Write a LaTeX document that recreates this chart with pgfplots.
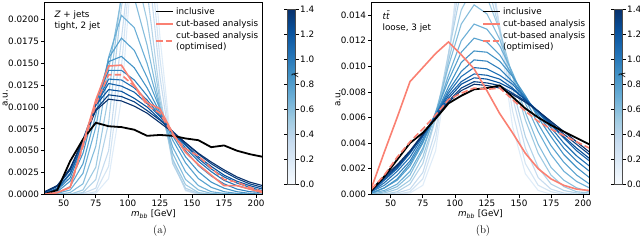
\documentclass[border=0pt]{standalone}
\usepackage{pgfplots}
\pgfplotsset{compat=1.18}
\usepackage{pgfplotstable}
\usepackage{fontspec}
\setsansfont{DejaVu Sans}

\definecolor{bl0}{RGB}{223,236,248}
\definecolor{bl1}{RGB}{211,228,243}
\definecolor{bl2}{RGB}{199,220,239}
\definecolor{bl3}{RGB}{179,211,232}
\definecolor{bl4}{RGB}{159,202,226}
\definecolor{bl5}{RGB}{134,189,220}
\definecolor{bl6}{RGB}{108,175,214}
\definecolor{bl7}{RGB}{87,161,206}
\definecolor{bl8}{RGB}{67,147,198}
\definecolor{bl9}{RGB}{50,130,190}
\definecolor{bl10}{RGB}{33,113,181}
\definecolor{bl11}{RGB}{21,97,169}
\definecolor{bl12}{RGB}{8,81,156}
\definecolor{bl13}{RGB}{8,65,132}
\definecolor{bl14}{RGB}{8,48,107}
\definecolor{salmon}{RGB}{250,128,114}

\pgfplotstableread{
x l0 l1 l2 l3 l4 l5 l6 l7 l8 l9 l10 l11 l12 l13 l14 incl cut opt
35 0 0 0 0 0 0 0 0 0 0.0001 0.0001 0.0001 0.0002 0.0002 0.0003 0.0000 0.0000 0.0000
45 0 0 0 0 0 0 0.0001 0.0001 0.0003 0.0005 0.0006 0.0007 0.0009 0.0010 0.0010 0.0005 0.0002 0.0002
55 0 0 0 0 0 0.0002 0.0005 0.0009 0.0015 0.0019 0.0023 0.0024 0.0028 0.0028 0.0030 0.0038 0.0008 0.0008
65 0 0 0.0001 0.0002 0.0005 0.0012 0.0024 0.0035 0.0047 0.0055 0.0058 0.0059 0.0063 0.0062 0.0062 0.0063 0.0058 0.0055
75 0.0001 0.0003 0.0007 0.0017 0.0031 0.0055 0.0077 0.0091 0.0103 0.0105 0.0103 0.0103 0.0102 0.0097 0.0096 0.0082 0.0108 0.0103
85 0.0018 0.0032 0.0050 0.0082 0.0113 0.0143 0.0157 0.0156 0.0152 0.0142 0.0132 0.0127 0.0120 0.0114 0.0109 0.0078 0.0147 0.0137
95 0.0109 0.0146 0.0178 0.0215 0.0230 0.0225 0.0205 0.0179 0.0158 0.0142 0.0131 0.0124 0.0118 0.0112 0.0107 0.0077 0.0148 0.0137
105 0.0296 0.0310 0.0309 0.0296 0.0262 0.0225 0.0191 0.0165 0.0145 0.0131 0.0122 0.0117 0.0110 0.0106 0.0101 0.0074 0.0125 0.0124
115 0.0350 0.0311 0.0276 0.0233 0.0199 0.0171 0.0150 0.0134 0.0122 0.0113 0.0108 0.0104 0.0100 0.0096 0.0093 0.0067 0.0105 0.0102
125 0.0181 0.0156 0.0135 0.0114 0.0107 0.0101 0.0099 0.0098 0.0094 0.0092 0.0090 0.0089 0.0086 0.0085 0.0082 0.0068 0.0098 0.0093
135 0.0041 0.0039 0.0037 0.0035 0.0040 0.0047 0.0054 0.0062 0.0067 0.0069 0.0071 0.0072 0.0071 0.0072 0.0071 0.0067 0.0070 0.0068
145 0.0004 0.0005 0.0005 0.0007 0.0011 0.0017 0.0026 0.0036 0.0043 0.0050 0.0053 0.0056 0.0057 0.0059 0.0059 0.0064 0.0048 0.0052
155 0 0 0 0.0001 0.0002 0.0005 0.0010 0.0018 0.0026 0.0033 0.0038 0.0041 0.0043 0.0046 0.0047 0.0062 0.0034 0.0044
165 0 0 0 0 0 0.0001 0.0003 0.0008 0.0014 0.0021 0.0026 0.0029 0.0032 0.0035 0.0037 0.0054 0.0022 0.0030
175 0 0 0 0 0 0 0.0001 0.0003 0.0007 0.0012 0.0016 0.0020 0.0022 0.0026 0.0028 0.0056 0.0010 0.0017
185 0 0 0 0 0 0 0 0.0001 0.0003 0.0006 0.0010 0.0013 0.0015 0.0018 0.0020 0.0050 0.0010 0.0014
195 0 0 0 0 0 0 0 0 0.0001 0.0003 0.0006 0.0008 0.0010 0.0012 0.0014 0.0046 0.0006 0.0008
205 0 0 0 0 0 0 0 0 0 0.0002 0.0003 0.0004 0.0006 0.0008 0.0010 0.0043 0.0002 0.0003
}\tabA

\pgfplotstableread{
x l0 l1 l2 l3 l4 l5 l6 l7 l8 l9 l10 l11 l12 l13 l14 incl cut opt
35 0 0 0 0 0 0 0.0001 0.0001 0.0001 0.0002 0.0002 0.0002 0.0003 0.0003 0.0004 0.0003 0.0005 0.0004
45 0 0 0 0 0.0001 0.0002 0.0003 0.0005 0.0005 0.0007 0.0009 0.0011 0.0012 0.0013 0.0014 0.0014 0.0033 0.0015
55 0 0 0.0001 0.0002 0.0004 0.0006 0.0008 0.0011 0.0012 0.0015 0.0018 0.0020 0.0021 0.0022 0.0023 0.0027 0.0060 0.0029
65 0.0001 0.0002 0.0004 0.0008 0.0011 0.0015 0.0018 0.0022 0.0024 0.0026 0.0029 0.0032 0.0033 0.0033 0.0034 0.0040 0.0088 0.0041
75 0.0007 0.0012 0.0017 0.0024 0.0029 0.0034 0.0036 0.0040 0.0041 0.0043 0.0045 0.0046 0.0046 0.0046 0.0047 0.0048 0.0099 0.0051
85 0.0034 0.0043 0.0050 0.0059 0.0060 0.0064 0.0062 0.0064 0.0062 0.0062 0.0062 0.0062 0.0061 0.0060 0.0060 0.0059 0.0110 0.0062
95 0.0103 0.0108 0.0109 0.0110 0.0104 0.0100 0.0093 0.0089 0.0084 0.0081 0.0079 0.0077 0.0075 0.0073 0.0072 0.0071 0.0119 0.0074
105 0.0199 0.0187 0.0173 0.0160 0.0144 0.0133 0.0120 0.0111 0.0103 0.0096 0.0092 0.0088 0.0086 0.0083 0.0081 0.0077 0.0109 0.0079
115 0.0249 0.0225 0.0202 0.0181 0.0163 0.0148 0.0133 0.0122 0.0112 0.0105 0.0099 0.0094 0.0091 0.0088 0.0086 0.0082 0.0098 0.0083
125 0.0209 0.0196 0.0181 0.0166 0.0154 0.0141 0.0129 0.0119 0.0111 0.0104 0.0098 0.0093 0.0090 0.0087 0.0085 0.0083 0.0081 0.0082
135 0.0124 0.0130 0.0131 0.0128 0.0128 0.0121 0.0116 0.0109 0.0104 0.0098 0.0093 0.0090 0.0087 0.0085 0.0083 0.0085 0.0063 0.0083
145 0.0053 0.0065 0.0076 0.0083 0.0092 0.0093 0.0095 0.0093 0.0092 0.0088 0.0086 0.0083 0.0082 0.0079 0.0078 0.0076 0.0048 0.0074
155 0.0016 0.0024 0.0036 0.0045 0.0058 0.0064 0.0071 0.0074 0.0077 0.0076 0.0075 0.0074 0.0074 0.0073 0.0072 0.0067 0.0032 0.0065
165 0.0003 0.0007 0.0013 0.0021 0.0032 0.0039 0.0049 0.0055 0.0060 0.0062 0.0064 0.0064 0.0065 0.0065 0.0065 0.0060 0.0020 0.0057
175 0 0.0002 0.0004 0.0008 0.0015 0.0021 0.0031 0.0038 0.0045 0.0049 0.0052 0.0054 0.0055 0.0056 0.0057 0.0054 0.0012 0.0051
185 0 0 0.0001 0.0003 0.0006 0.0011 0.0018 0.0025 0.0031 0.0036 0.0040 0.0044 0.0045 0.0047 0.0049 0.0049 0.0007 0.0046
195 0 0 0 0.0001 0.0002 0.0005 0.0010 0.0015 0.0021 0.0026 0.0030 0.0034 0.0036 0.0039 0.0041 0.0044 0.0004 0.0041
205 0 0 0 0 0.0001 0.0002 0.0005 0.0008 0.0013 0.0018 0.0022 0.0026 0.0028 0.0031 0.0033 0.0039 0.0003 0.0036
}\tabB

\pgfplotsset{
  colormap={mplblues}{rgb255=(247,251,255) rgb255=(222,235,247) rgb255=(198,219,239) rgb255=(158,202,225) rgb255=(107,174,214) rgb255=(66,146,198) rgb255=(33,113,181) rgb255=(8,81,156) rgb255=(8,48,107)},
  myaxis/.style={
    scale only axis, width=218pt, height=192pt, anchor=south west,
    xmin=35, xmax=205, xtick={50,75,100,125,150,175,200},
    tick align=outside, tick pos=left, major tick length=3.5pt,
    every tick/.style={black, line width=0.7pt},
    axis line style={line width=0.7pt},
    axis on top,
    /pgf/number format/assume math mode=true,
    scaled y ticks=false,
    every tick label/.append style={inner sep=1.8pt},
    xlabel={\textit{m}\textsubscript{\textit{bb}} [GeV]},
    ylabel={a.u.},
    xlabel style={yshift=2pt},
    ylabel shift=-5pt,
    colormap name=mplblues,
    point meta min=0, point meta max=1.4,
    colorbar,
    colorbar style={
      at={(parent axis.south east)}, anchor=south west,
      xshift=16.5pt, yshift=10pt,
      width=7.5pt, height=175pt, scale only axis,
      ytick={0,0.2,0.4,0.6,0.8,1.0,1.2,1.4},
      yticklabel style={/pgf/number format/.cd, fixed, fixed zerofill, precision=1, assume math mode=true},
      every tick label/.append style={inner sep=1.5pt},
      yticklabel pos=right,
      tick align=outside, major tick length=3.5pt,
      every tick/.style={black, line width=0.7pt},
      axis line style={line width=0.6pt, black!70},
      ylabel={\itshape λ},
      ylabel shift=0pt,
      ylabel style={at={(rel axis cs:1,0.5)}, anchor=center, xshift=22pt, rotate=0},
    },
    legend style={at={(0.995,0.99)}, anchor=north east, draw=none, fill=none,
      inner sep=1pt, row sep=0pt,
      cells={align=left, anchor=west}},
    legend cell align=left,
  }
}

\begin{document}
\begin{tikzpicture}[font=\sffamily\fontsize{8.8}{10.8}\selectfont]
\path[use as bounding box] (0,0) rectangle (640pt,242pt);

\begin{axis}[myaxis, at={(44.5pt,47.7pt)},
  ymin=0, ymax=0.022,
  ytick={0,0.0025,0.005,0.0075,0.01,0.0125,0.015,0.0175,0.02},
  yticklabel style={/pgf/number format/.cd, fixed, fixed zerofill, precision=4},
]
\pgfplotsinvokeforeach{0,...,14}{
  \addplot[forget plot, color=bl#1, line width=1.1pt] table[x=x, y=l#1]{\tabA};
}
\addplot[black, line width=1.8pt] table[x=x, y=incl]{\tabA};
\addlegendentry{inclusive}
\addplot[salmon, line width=1.6pt] table[x=x, y=cut]{\tabA};
\addlegendentry{cut-based analysis}
\addplot[salmon, line width=1.6pt, dash pattern=on 6.5pt off 3pt] table[x=x, y=opt]{\tabA};
\addlegendentry{cut-based analysis\\(optimised)}
\node[anchor=north west, align=left, inner sep=0pt] at (axis description cs:0.045,0.955) {\textit{Z} + jets\\tight, 2 jet};
\end{axis}

\begin{axis}[myaxis, at={(371.5pt,47.7pt)},
  ymin=0, ymax=0.015,
  ytick={0,0.002,0.004,0.006,0.008,0.01,0.012,0.014},
  yticklabel style={/pgf/number format/.cd, fixed, fixed zerofill, precision=3},
]
\pgfplotsinvokeforeach{0,...,14}{
  \addplot[forget plot, color=bl#1, line width=1.1pt] table[x=x, y=l#1]{\tabB};
}
\addplot[black, line width=1.8pt] table[x=x, y=incl]{\tabB};
\addlegendentry{inclusive}
\addplot[salmon, line width=1.6pt] table[x=x, y=cut]{\tabB};
\addlegendentry{cut-based analysis}
\addplot[salmon, line width=1.6pt, dash pattern=on 6.5pt off 3pt] table[x=x, y=opt]{\tabB};
\addlegendentry{cut-based analysis\\(optimised)}
\node[anchor=north west, align=left, inner sep=0pt] at (axis description cs:0.05,0.955) {\textit{t\={t}}\\loose, 3 jet};
\end{axis}

\node[font=\rmfamily\fontsize{11}{13}\selectfont] at (160pt,11pt) {(a)};
\node[font=\rmfamily\fontsize{11}{13}\selectfont] at (483pt,11pt) {(b)};
\end{tikzpicture}
\end{document}
